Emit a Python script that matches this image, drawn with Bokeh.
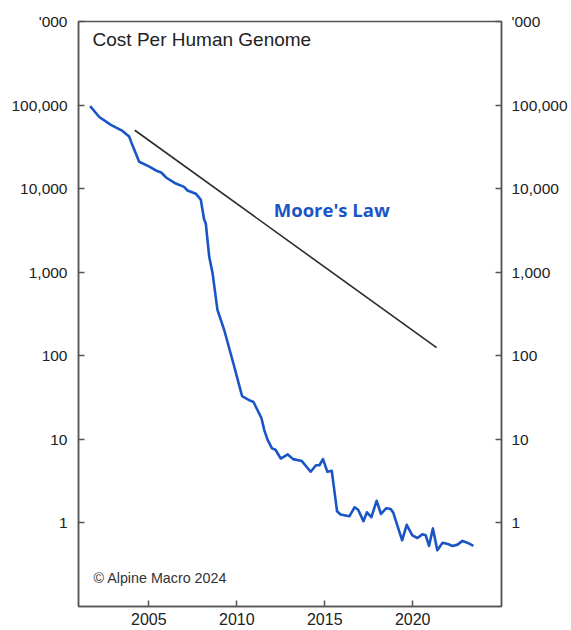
from bokeh.plotting import figure
from bokeh.models import Range1d, FixedTicker, NumeralTickFormatter, LinearAxis, LogAxis, Label
from bokeh.embed import file_html
from bokeh.resources import INLINE

# Cost per human genome, '000 USD
genome_years = [2001.66, 2002.18, 2002.84, 2003.5, 2003.88, 2004.0, 2004.45, 2005.0, 2005.4, 2005.7,
                2006.0, 2006.53, 2007.0, 2007.2, 2007.67, 2007.95, 2008.14, 2008.24, 2008.43, 2008.62,
                2008.9, 2009.28, 2009.85, 2010.04, 2010.3, 2010.7, 2010.95, 2011.4, 2011.56, 2011.74,
                2012.0, 2012.2, 2012.5, 2012.9, 2013.2, 2013.7, 2014.2, 2014.5, 2014.7, 2014.9,
                2015.15, 2015.4, 2015.7, 2015.9, 2016.4, 2016.7, 2016.9, 2017.2, 2017.4, 2017.65,
                2017.95, 2018.2, 2018.5, 2018.75, 2018.9, 2019.4, 2019.66, 2019.98, 2020.27, 2020.55,
                2020.74, 2020.93, 2021.15, 2021.4, 2021.7, 2022.0, 2022.26, 2022.55, 2022.83, 2023.1,
                2023.45]
genome_cost = [97000, 72000, 58000, 49000, 42000, 36000, 21000, 18500, 16500, 15600,
               13500, 11500, 10500, 9500, 8700, 7400, 4300, 3800, 1540, 980,
               355, 205, 75, 53, 33, 29.5, 28, 18, 13, 10,
               7.8, 7.5, 5.9, 6.6, 5.8, 5.5, 4.1, 4.9, 4.9, 5.8,
               4.1, 4.2, 1.38, 1.26, 1.2, 1.54, 1.44, 1.05, 1.34, 1.17,
               1.84, 1.28, 1.5, 1.47, 1.32, 0.62, 0.95, 0.71, 0.66, 0.73,
               0.71, 0.53, 0.86, 0.47, 0.58, 0.56, 0.53, 0.55, 0.61, 0.58,
               0.53]

# Moore's Law reference line (end points)
moore_years = [2004.2, 2021.36]
moore_cost = [50000, 125]

y_ticks = [1, 10, 100, 1000, 10000, 100000, 1000000]
y_unit_label = "'000"
x_ticks = [2005, 2010, 2015, 2020]

FONT = "Liberation Sans"
AXIS_COLOR = "#555555"
BLUE = "#1a55c6"

p = figure(width=571, height=630, y_axis_type="log",
           x_range=Range1d(2001.0, 2025.05), y_range=Range1d(0.1, 1e6),
           output_backend="svg", toolbar_location=None,
           min_border_left=78, min_border_right=70, min_border_top=21, min_border_bottom=24,
           y_axis_location=None, x_axis_location=None)
p.background_fill_color = "white"
p.border_fill_color = "white"
p.grid.visible = False
p.outline_line_color = AXIS_COLOR
p.outline_line_width = 1.5


def style_axis(ax, standoff):
    ax.axis_line_color = AXIS_COLOR
    ax.axis_line_width = 1.5
    ax.major_tick_line_color = AXIS_COLOR
    ax.major_tick_line_width = 1.5
    ax.major_tick_in = 6
    ax.major_tick_out = 0
    ax.minor_tick_line_color = None
    ax.major_label_text_font = FONT
    ax.major_label_text_font_size = "15.5px"
    ax.major_label_text_color = "#222222"
    ax.major_label_standoff = standoff


def y_axis(standoff):
    ax = LogAxis(ticker=FixedTicker(ticks=y_ticks), formatter=NumeralTickFormatter(format="0,0"))
    ax.major_label_overrides = {y_ticks[-1]: y_unit_label}
    style_axis(ax, standoff)
    return ax


bottom = LinearAxis(ticker=FixedTicker(ticks=x_ticks))
style_axis(bottom, 6)
bottom.major_label_text_font_size = "16px"
p.add_layout(y_axis(11), "left")
p.add_layout(y_axis(10), "right")
p.add_layout(bottom, "below")

p.line(genome_years, genome_cost, line_color=BLUE, line_width=2.6, line_join="round")
p.line(moore_years, moore_cost, line_color="#2b2b2b", line_width=1.6)

p.add_layout(Label(x=2012.1, y=10 ** 3.75, text="Moore's Law", text_font="Open Sans",
                   text_font_style="bold", text_font_size="18.5px", text_color=BLUE,
                   text_baseline="middle"))
p.add_layout(Label(x=2001.8, y=10 ** 5.79, text="Cost Per Human Genome", text_font=FONT,
                   text_font_size="19px", text_color="#222222", text_baseline="middle"))
p.add_layout(Label(x=2001.85, y=10 ** -0.664, text="\u00a9 Alpine Macro 2024", text_font=FONT,
                   text_font_size="14.3px", text_color="#333333", text_baseline="middle"))

open("out.html", "w").write(file_html(p, INLINE))
